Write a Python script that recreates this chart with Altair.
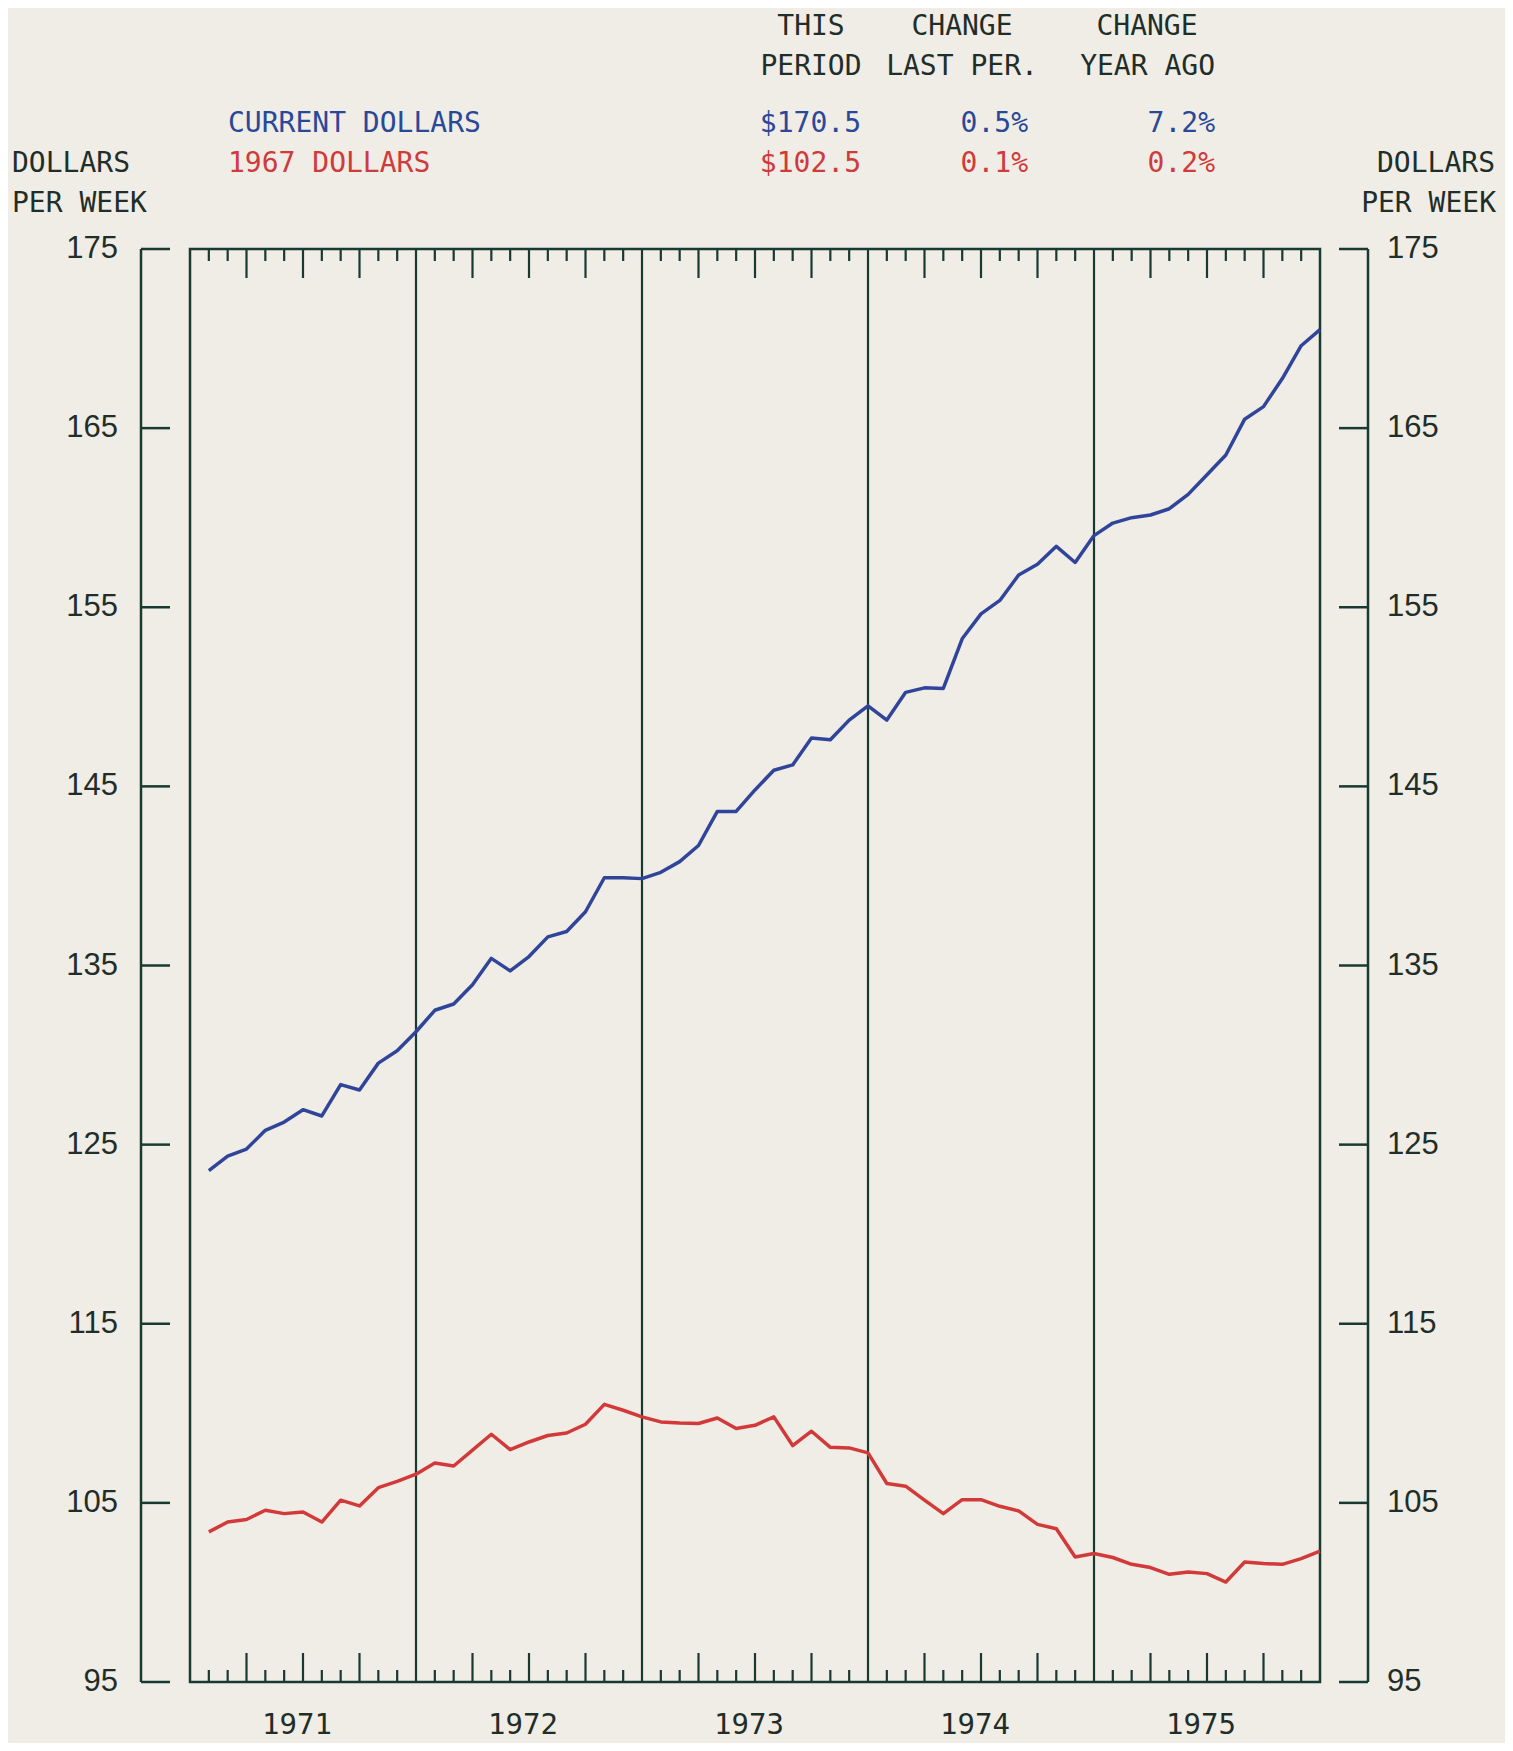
import altair as alt
import pandas as pd

# ---------------- data ----------------
months = list(range(1, 61))  # month-end points, Jan 1971 .. Dec 1975
current_dollars = [
    123.55, 124.36, 124.75, 125.8, 126.26, 126.95, 126.6, 128.35, 128.05, 129.55, 130.24, 131.3,
    132.5, 132.85, 133.93, 135.4, 134.7, 135.5, 136.6, 136.9, 138.0, 139.9, 139.9, 139.85,
    140.2, 140.8, 141.7, 143.6, 143.6, 144.8, 145.9, 146.2, 147.7, 147.6, 148.7, 149.5,
    148.7, 150.25, 150.5, 150.47, 153.24, 154.63, 155.38, 156.8, 157.4, 158.4, 157.5, 159.0,
    159.7, 160.0, 160.15, 160.5, 161.3, 162.4, 163.5, 165.5, 166.2, 167.77, 169.6, 170.5,
]
dollars_1967 = [
    103.38, 103.93, 104.07, 104.59, 104.4, 104.49, 103.93, 105.15, 104.83, 105.85, 106.2, 106.6,
    107.23, 107.06, 107.94, 108.83, 107.97, 108.4, 108.76, 108.9, 109.39, 110.5, 110.17, 109.8,
    109.52, 109.46, 109.43, 109.74, 109.15, 109.33, 109.8, 108.2, 109.0, 108.1, 108.07, 107.79,
    106.08, 105.93, 105.15, 104.4, 105.18, 105.18, 104.81, 104.55, 103.8, 103.56, 101.98, 102.17,
    101.95, 101.57, 101.39, 101.01, 101.14, 101.05, 100.58, 101.7, 101.61, 101.57, 101.89, 102.31,
]
series_names = ["CURRENT DOLLARS", "1967 DOLLARS"]
y_tick_values = [95, 105, 115, 125, 135, 145, 155, 165, 175]
year_labels = ["1971", "1972", "1973", "1974", "1975"]
year_mid_months = [6, 18, 30, 42, 54]
year_divider_months = [12, 24, 36, 48]
month_tick_months = [m for m in range(1, 60) if m % 12 != 0]

header_top = ["THIS", "CHANGE", "CHANGE"]
header_bottom = ["PERIOD", "LAST PER.", "YEAR AGO"]
current_stats = ["$170.5", "0.5%", "7.2%"]
real_stats = ["$102.5", "0.1%", "0.2%"]
unit_lines = ["DOLLARS", "PER WEEK"]

# ---------------- style ----------------
W, H = 1130, 1433
OX, OY = 190, 249  # page position of plot origin
BG = "#f0ece6"
FRAME = "#183a31"
TEXT = "#1f2e28"
BLUE_LINE = "#30459a"
RED_LINE = "#d23a3a"
BLUE_TEXT = "#2a4898"
RED_TEXT = "#cf3a3a"
MONO = "DejaVu Sans Mono"
NUMFONT = "Liberation Sans Narrow, Liberation Sans, sans-serif"

xs = alt.Scale(domain=[0, 60], nice=False, zero=False)
ys = alt.Scale(domain=[95, 175], nice=False, zero=False)

df = pd.DataFrame({
    "m": months * 2,
    "v": current_dollars + dollars_1967,
    "s": [series_names[0]] * len(months) + [series_names[1]] * len(months),
})

layers = []

# year dividers
layers.append(
    alt.Chart(pd.DataFrame({"m": year_divider_months}))
    .mark_rule(color=FRAME, strokeWidth=2.2)
    .encode(x=alt.X("m:Q", scale=xs, axis=None))
)

# month ticks (top & bottom, tall every quarter)
tick_df = pd.DataFrame({"m": month_tick_months})
for cond, ln in [("datum.m % 3 == 0", 29), ("datum.m % 3 != 0", 12)]:
    base = alt.Chart(tick_df).transform_filter(cond).mark_rule(color=FRAME, strokeWidth=2.2)
    layers.append(base.encode(x=alt.X("m:Q", scale=xs, axis=None), y=alt.value(0), y2=alt.value(ln)))
    layers.append(base.encode(x=alt.X("m:Q", scale=xs, axis=None), y=alt.value(H), y2=alt.value(H - ln)))

# separate left / right value axes
one = pd.DataFrame({"a": [0]})
layers.append(alt.Chart(one).mark_rule(color=FRAME, strokeWidth=2.5)
              .encode(x=alt.value(-49), y=alt.value(0), y2=alt.value(H)))
layers.append(alt.Chart(one).mark_rule(color=FRAME, strokeWidth=2.5)
              .encode(x=alt.value(W + 48), y=alt.value(0), y2=alt.value(H)))
ydf = pd.DataFrame({"v": y_tick_values})
layers.append(alt.Chart(ydf).mark_rule(color=FRAME, strokeWidth=2.5)
              .encode(y=alt.Y("v:Q", scale=ys, axis=None), x=alt.value(-49), x2=alt.value(-20)))
layers.append(alt.Chart(ydf).mark_rule(color=FRAME, strokeWidth=2.5)
              .encode(y=alt.Y("v:Q", scale=ys, axis=None), x=alt.value(W + 19), x2=alt.value(W + 48)))
layers.append(alt.Chart(ydf).mark_text(align="right", baseline="middle", font=NUMFONT, fontSize=31, color=TEXT)
              .encode(y=alt.Y("v:Q", scale=ys, axis=None), x=alt.value(-72), text="v:Q"))
layers.append(alt.Chart(ydf).mark_text(align="left", baseline="middle", font=NUMFONT, fontSize=31, color=TEXT)
              .encode(y=alt.Y("v:Q", scale=ys, axis=None), x=alt.value(W + 67), text="v:Q"))

# year labels
layers.append(
    alt.Chart(pd.DataFrame({"m": year_mid_months, "year": year_labels}))
    .mark_text(align="center", baseline="alphabetic", dx=-6, font=MONO, fontSize=29, color=TEXT)
    .encode(x=alt.X("m:Q", scale=xs, axis=None), y=alt.value(H + 52), text="year:N")
)

# data lines
layers.append(
    alt.Chart(df).mark_line(strokeWidth=3.5, strokeJoin="round")
    .encode(
        x=alt.X("m:Q", scale=xs, axis=None),
        y=alt.Y("v:Q", scale=ys, axis=None),
        color=alt.Color("s:N", scale=alt.Scale(domain=series_names, range=[BLUE_LINE, RED_LINE]), legend=None),
    )
)


def txt(s, x, y, align, color=TEXT, size=28, font=MONO):
    return (alt.Chart(pd.DataFrame({"t": [s]}))
            .mark_text(align=align, baseline="alphabetic", font=font, fontSize=size, color=color)
            .encode(x=alt.value(x - OX), y=alt.value(y - OY), text="t:N"))


# header table
col_centers = [811, 962, 1147]
col_rights = [861, 1028, 1215]
for i in range(3):
    layers.append(txt(header_top[i], col_centers[i], 35, "center"))
    if i == 2:
        layers.append(txt(header_bottom[i], col_rights[i], 75, "right"))
    else:
        layers.append(txt(header_bottom[i], col_centers[i], 75, "center"))
    layers.append(txt(current_stats[i], col_rights[i], 132, "right", BLUE_TEXT))
    layers.append(txt(real_stats[i], col_rights[i], 172, "right", RED_TEXT))
layers.append(txt(series_names[0], 228, 132, "left", BLUE_TEXT))
layers.append(txt(series_names[1], 228, 172, "left", RED_TEXT))
layers.append(txt(unit_lines[0], 12, 172, "left"))
layers.append(txt(unit_lines[1], 12, 212, "left"))
layers.append(txt(unit_lines[0], 1495, 172, "right"))
layers.append(txt(unit_lines[1], 1496, 212, "right"))

chart = (
    alt.layer(*layers)
    .properties(
        width=W, height=H,
        autosize=alt.AutoSizeParams(type="none"),
        padding={"left": OX - 8, "top": OY - 8, "right": 185, "bottom": 61},
        background=BG,
    )
    .configure_view(stroke=FRAME, strokeWidth=2.5)
)

chart.save("out.html", embed_options={"renderer": "svg", "actions": False})
